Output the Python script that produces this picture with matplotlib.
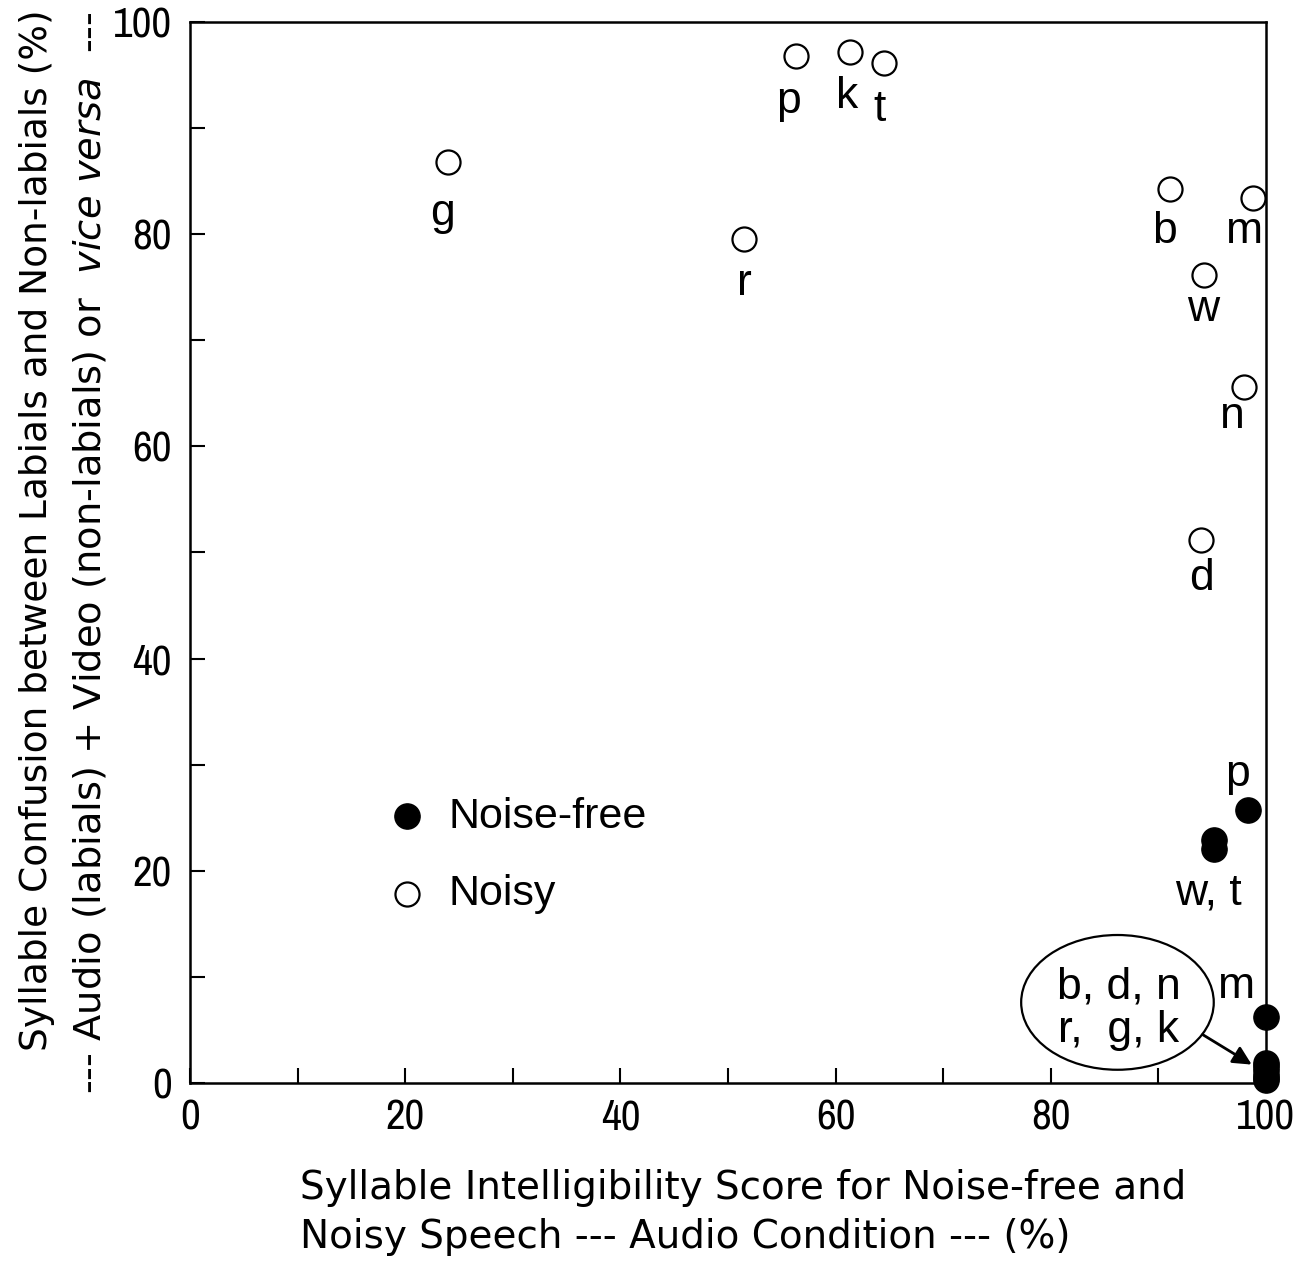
import matplotlib
matplotlib.use("Agg")
import matplotlib.pyplot as plt
from matplotlib import font_manager as fm
from matplotlib.patches import Ellipse
from matplotlib.ticker import MultipleLocator

# narrow face for the tick numbers, if one is around
cands = ['Liberation Sans Narrow', 'Arial Narrow', 'Archivo Narrow', 'Roboto Condensed',
         'PT Sans Narrow', 'Pragati Narrow', 'DejaVu Sans']
narrow = 'DejaVu Sans'
for c in cands:
    try:
        fm.findfont(fm.FontProperties(family=c), fallback_to_default=False)
        narrow = c
        break
    except Exception:
        pass

plt.rcParams['font.family'] = ['Liberation Sans', 'DejaVu Sans']
plt.rcParams['mathtext.fontset'] = 'dejavusans'

# noisy speech (open circles)
noisy_labels = ['g', 'r', 'p', 'k', 't', 'b', 'm', 'w', 'n', 'd']
noisy_x = [24.0, 51.5, 56.3, 61.3, 64.5, 91.1, 98.8, 94.2, 98.0, 94.0]
noisy_y = [86.8, 79.5, 96.8, 97.2, 96.1, 84.3, 83.4, 76.2, 65.6, 51.2]

# noise-free speech (filled circles)
clean_labels = ['p', 'w', 't', 'm', 'b', 'd', 'n', 'r', 'g', 'k']
clean_x = [98.3, 95.2, 95.2, 100.0, 100.0, 100.0, 100.0, 100.0, 100.0, 100.0]
clean_y = [25.7, 22.9, 22.1, 6.2, 1.9, 1.6, 1.2, 0.8, 0.5, 0.3]

# text label offsets (points)
noisy_off = [(-4, -37), (0.5, -32), (-5, -33), (-1.5, -32), (-3, -33),
             (-4, -31), (-6, -24), (0, -25), (-9, -21), (0, -28)]

FS_TICK = 31
FS_PT = 32
FS_AX = 27

fig = plt.figure(figsize=(13.09, 12.63), dpi=100)
ax = fig.add_axes([0.1452, 0.1425, 0.9671 - 0.1452, 0.9826 - 0.1425])

h_noisy = ax.scatter(noisy_x, noisy_y, s=300, facecolors='white', edgecolors='black',
                     linewidths=1.6, zorder=3)
h_clean = ax.scatter(clean_x, clean_y, s=330, color='black', zorder=4, clip_on=False)

for lab, x, y, off in zip(noisy_labels, noisy_x, noisy_y, noisy_off):
    ax.annotate(lab, (x, y), xytext=off, textcoords='offset points',
                ha='center', va='center', fontsize=FS_PT)

# noise-free labels
ax.annotate('p', (clean_x[0], clean_y[0]), xytext=(-7, 26), textcoords='offset points',
            ha='center', va='center', fontsize=FS_PT)
ax.annotate('w, t', (clean_x[1], clean_y[1]), xytext=(-4, -38), textcoords='offset points',
            ha='center', va='center', fontsize=FS_PT)
ax.annotate('m', (clean_x[3], clean_y[3]), xytext=(-21, 22), textcoords='offset points',
            ha='center', va='center', fontsize=FS_PT)

ax.add_patch(Ellipse((86.2, 7.6), 17.9, 12.7, fill=False, lw=1.6, color='black'))
ax.text(86.3, 7.0, 'b, d, n\nr,  g, k', ha='center', va='center', fontsize=FS_PT,
        linespacing=1.05)
ax.annotate('', xy=(98.9, 1.6), xytext=(93.9, 4.7),
            arrowprops=dict(arrowstyle='-|>', lw=2, color='black', mutation_scale=28))

ax.set_xlim(0, 100)
ax.set_ylim(0, 100)
ax.xaxis.set_major_locator(MultipleLocator(20))
ax.xaxis.set_minor_locator(MultipleLocator(10))
ax.yaxis.set_major_locator(MultipleLocator(20))
ax.yaxis.set_minor_locator(MultipleLocator(10))
ax.tick_params(which='both', direction='in', length=11, width=1.5)
ax.tick_params(axis='x', pad=11)
ax.tick_params(axis='y', pad=13)
for lab in ax.get_xticklabels() + ax.get_yticklabels():
    lab.set_fontfamily(narrow)
    lab.set_fontsize(FS_TICK)
for sp in ax.spines.values():
    sp.set_linewidth(1.8)

ax.legend(handles=[h_clean, h_noisy], labels=['Noise-free', 'Noisy'],
          loc='upper left', bbox_to_anchor=(0.182, 0.270), frameon=False,
          fontsize=31, handlelength=1.0, handletextpad=0.45, labelspacing=0.88,
          scatterpoints=1, borderaxespad=0, borderpad=0)

ax.text(-0.142, 0.521, 'Syllable Confusion between Labials and Non-labials (%)',
        transform=ax.transAxes, rotation=90, ha='center', va='center',
        fontsize=FS_AX, family='DejaVu Sans')
ax.text(-0.093, 0.5, r'--- Audio (labials) + Video (non-labials) or  $\it{vice\ versa}$  ---',
        transform=ax.transAxes, rotation=90, ha='center', va='center',
        fontsize=27.6, family='DejaVu Sans')

fig.text(300 / 1309, 1 - 1188 / 1263, 'Syllable Intelligibility Score for Noise-free and',
         ha='left', va='center', fontsize=28, family='DejaVu Sans')
fig.text(300 / 1309, 1 - 1237 / 1263, 'Noisy Speech --- Audio Condition --- (%)',
         ha='left', va='center', fontsize=28, family='DejaVu Sans')

fig.savefig('out.png', dpi=100)
